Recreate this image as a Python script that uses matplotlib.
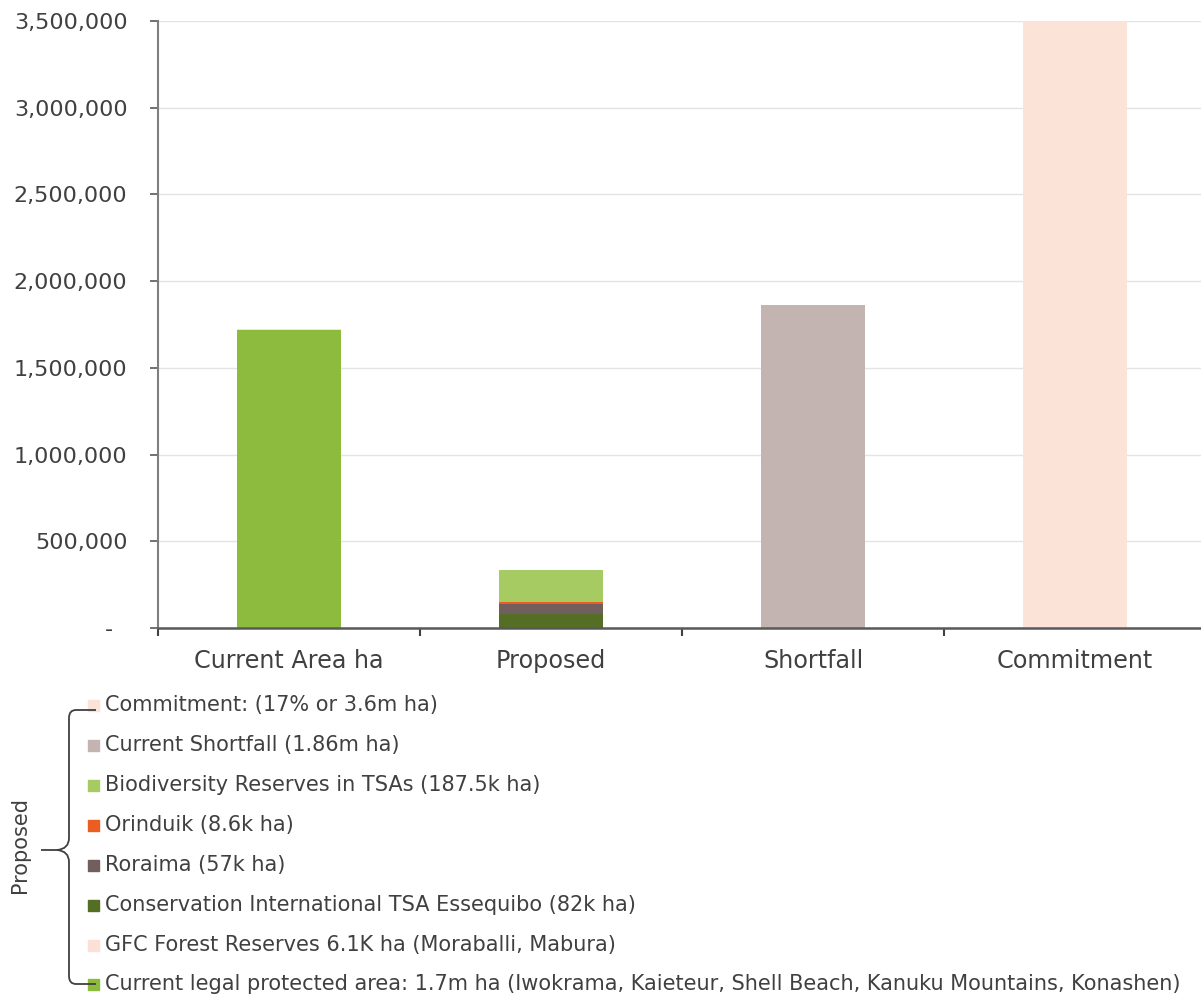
import numpy as np
import matplotlib
matplotlib.use("Agg")
import matplotlib.pyplot as plt
from matplotlib.path import Path
from matplotlib.patches import PathPatch, Rectangle
from matplotlib.ticker import FuncFormatter

# -------------------- datos --------------------
categories = ["Current Area ha", "Proposed", "Shortfall", "Commitment"]

current_legal = [1718000, 0, 0, 0]
gfc_reserves = [6100, 0, 0, 0]
ci_essequibo = [0, 82000, 0, 0]
roraima = [0, 57000, 0, 0]
orinduik = [0, 8600, 0, 0]
biodiversity = [0, 187500, 0, 0]
shortfall = [0, 0, 1860000, 0]
commitment = [0, 0, 0, 3600000]

# orden de apilado (de abajo hacia arriba)
series = [
    (current_legal, "#8DBB3E"),
    (gfc_reserves, "#FCE0D6"),
    (ci_essequibo, "#546F25"),
    (roraima, "#735E5E"),
    (orinduik, "#EC5D21"),
    (biodiversity, "#A5CB62"),
    (shortfall, "#C3B4B2"),
    (commitment, "#FCE3D8"),
]

legend_labels = [
    "Commitment: (17% or 3.6m ha)",
    "Current Shortfall (1.86m ha)",
    "Biodiversity Reserves in TSAs (187.5k ha)",
    "Orinduik (8.6k ha)",
    "Roraima (57k ha)",
    "Conservation International TSA Essequibo (82k ha)",
    "GFC Forest Reserves 6.1K ha (Moraballi, Mabura)",
    "Current legal protected area: 1.7m ha (Iwokrama, Kaieteur, Shell Beach, Kanuku Mountains, Konashen)",
]
legend_colors = ["#FCE3D8", "#C3B4B2", "#A5CB62", "#EC5D21",
                 "#735E5E", "#546F25", "#FCE0D6", "#8DBB3E"]

TXT = "#404040"
W, H = 1201, 996

plt.rcParams["font.family"] = ["DejaVu Sans"]

fig = plt.figure(figsize=(W / 100, H / 100), dpi=100)
ax = fig.add_axes([158 / W, (H - 628) / H, 1048 / W, 607 / H])

x = np.arange(len(categories))
bottom = np.zeros(len(categories))
for vals, col in series:
    v = np.array(vals, dtype=float)
    ax.bar(x, v, width=0.4, bottom=bottom, color=col, zorder=2)
    bottom += v

ax.set_xlim(-0.5, 3.5)
ax.set_ylim(0, 3500000)
ax.set_yticks(np.arange(0, 3500001, 500000))
# formato contable: el cero se muestra como guion
ax.yaxis.set_major_formatter(FuncFormatter(lambda v, p: "-  " if v == 0 else f"{v:,.0f}"))
ax.grid(axis="y", color="#e3e3e3", lw=1.0, zorder=0)

ax.set_xticks(x)
ax.set_xticklabels(categories, fontsize=17.2, color=TXT)
ax.set_xticks(np.arange(-0.5, 3.6, 1.0), minor=True)
ax.tick_params(axis="x", which="major", length=0, pad=15)
ax.tick_params(axis="x", which="minor", length=6, width=1.5, color="#404040", direction="out")
ax.tick_params(axis="y", length=6, width=1.2, color="#595959", labelsize=16,
               labelcolor=TXT, pad=16)

for s in ["top", "right"]:
    ax.spines[s].set_visible(False)
ax.spines["left"].set_color("#7f7f7f")
ax.spines["left"].set_linewidth(1.5)
ax.spines["bottom"].set_color("#595959")
ax.spines["bottom"].set_linewidth(1.8)

# -------------------- leyenda manual --------------------
ys = [705, 745, 785, 825, 865, 905, 945, 984]
for yy, lab, col in zip(ys, legend_labels, legend_colors):
    fig.patches.append(Rectangle((88 / W, (H - yy - 5.5) / H), 11 / W, 11 / H,
                                 transform=fig.transFigure, color=col, figure=fig))
    fig.text(105 / W, (H - yy) / H, lab, fontsize=15, color=TXT,
             ha="left", va="center")

# llave "Proposed"
def P(px, py):
    return (px / W, (H - py) / H)

verts = [P(96, 710), P(76, 710), P(69, 710), P(69, 718), P(69, 838),
         P(69, 849), P(57, 850),
         P(69, 851), P(69, 862), P(69, 976), P(69, 984), P(76, 984), P(96, 984)]
codes = [Path.MOVETO, Path.LINETO, Path.CURVE3, Path.CURVE3, Path.LINETO,
         Path.CURVE3, Path.CURVE3,
         Path.CURVE3, Path.CURVE3, Path.LINETO, Path.CURVE3, Path.CURVE3, Path.LINETO]
fig.patches.append(PathPatch(Path(verts, codes), fill=False, ec="#404040", lw=1.3,
                             transform=fig.transFigure, figure=fig))
stem = Path([P(41, 850), P(57, 850)], [Path.MOVETO, Path.LINETO])
fig.patches.append(PathPatch(stem, fill=False, ec="#404040", lw=1.3,
                             transform=fig.transFigure, figure=fig))
fig.text(20 / W, (H - 845) / H, "Proposed", rotation=90, fontsize=15,
         color=TXT, ha="center", va="center")

fig.savefig("out.png", dpi=100)
